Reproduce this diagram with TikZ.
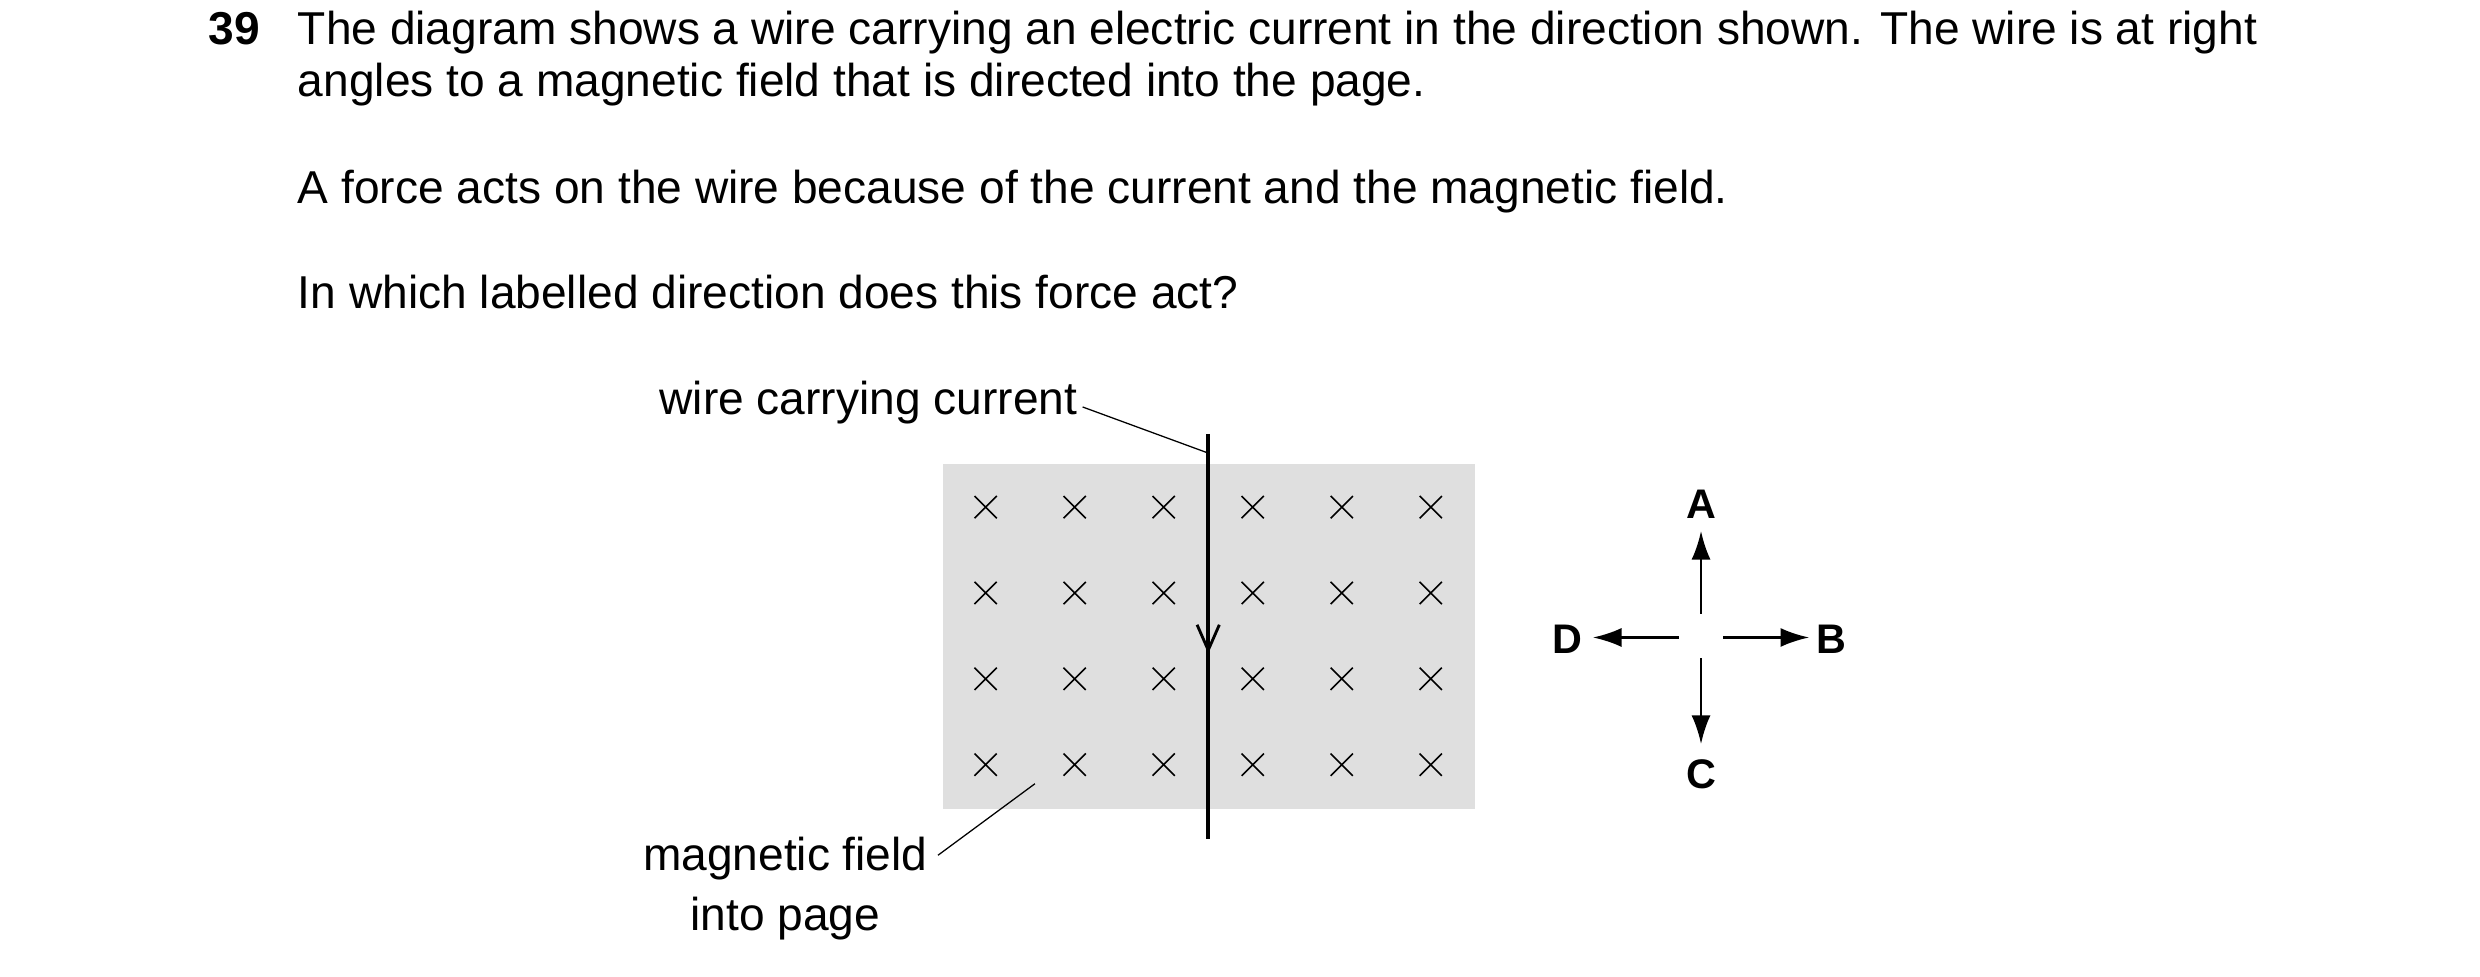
\documentclass[tikz,border=0pt]{standalone}
\usepackage{fontspec}
\setmainfont{Liberation Sans}
\usetikzlibrary{arrows.meta}
\tikzset{
	body/.style={anchor=base west, inner sep=0pt, font=\fontsize{14.5}{17}\selectfont},
	label/.style={inner sep=0pt, font=\fontsize{14.5}{17}\selectfont},
	dirlabel/.style={inner sep=0pt, font=\fontsize{13}{15}\selectfont\bfseries},
	cross/.style={line width=0.5pt},
	leader/.style={line width=0.4pt},
	dirarrow/.style={line width=0.8pt, -{Latex[length=9pt, width=6pt]}}
}
\begin{document}
\begin{tikzpicture}[x=0.5pt, y=-0.5pt]
	\useasboundingbox (0, 0) rectangle (1560, 614);
	% question text
	\node[body, font=\fontsize{14.5}{17}\selectfont\bfseries] (num) at (131, 28) {39};
	\node[body] (line1) at (187, 28) {The diagram shows a wire carrying an electric current in the direction shown. The wire is at right};
	\node[body] (line2) at (187, 61) {angles to a magnetic field that is directed into the page.};
	\node[body] (line3) at (187, 128) {A force acts on the wire because of the current and the magnetic field.};
	\node[body] (line4) at (187, 194) {In which labelled direction does this force act?};
	% field region
	\fill[gray!25!white] (593, 292) rectangle (928, 509);
	\foreach \x in {620, 676, 732, 788, 844, 900}
		\foreach \y in {319, 373, 427, 481}
			\draw[cross] (\x-7, \y-7) -- (\x+7, \y+7) (\x-7, \y+7) -- (\x+7, \y-7);
	% wire
	\coordinate (wtop) at (760, 273);
	\coordinate (wbot) at (760, 528);
	\draw[line width=1.2pt] (wtop) -- (wbot);
	\draw[line width=0.9pt] (753, 393) -- (760, 409) -- (767, 393);
	% labels
	\node[label, anchor=east] (wire) at (678, 253) {wire carrying current};
	\coordinate (wpt) at (760, 285);
	\draw[leader] (wire.east) ++(3, 3) -- (wpt);
	\node[label, align=center] (field) at (494, 559) {magnetic field\\[2pt]into page};
	\coordinate (fpt) at (651, 493);
	\draw[leader] (590, 538) -- (fpt);
	% directions
	\node[dirlabel] (A) at (1070, 317) {A};
	\node[dirlabel] (B) at (1152, 402) {B};
	\node[dirlabel] (C) at (1070, 487) {C};
	\node[dirlabel] (D) at (986, 402) {D};
	\coordinate (a0) at (1070, 386);
	\coordinate (b0) at (1084, 401);
	\coordinate (c0) at (1070, 414);
	\coordinate (d0) at (1056, 401);
	\draw[dirarrow] (a0) -- (A.south |- 0, 334);
	\draw[dirarrow] (b0) -- (1138, 401);
	\draw[dirarrow] (c0) -- (C.north |- 0, 468);
	\draw[dirarrow] (d0) -- (1002, 401);
\end{tikzpicture}
\end{document}
